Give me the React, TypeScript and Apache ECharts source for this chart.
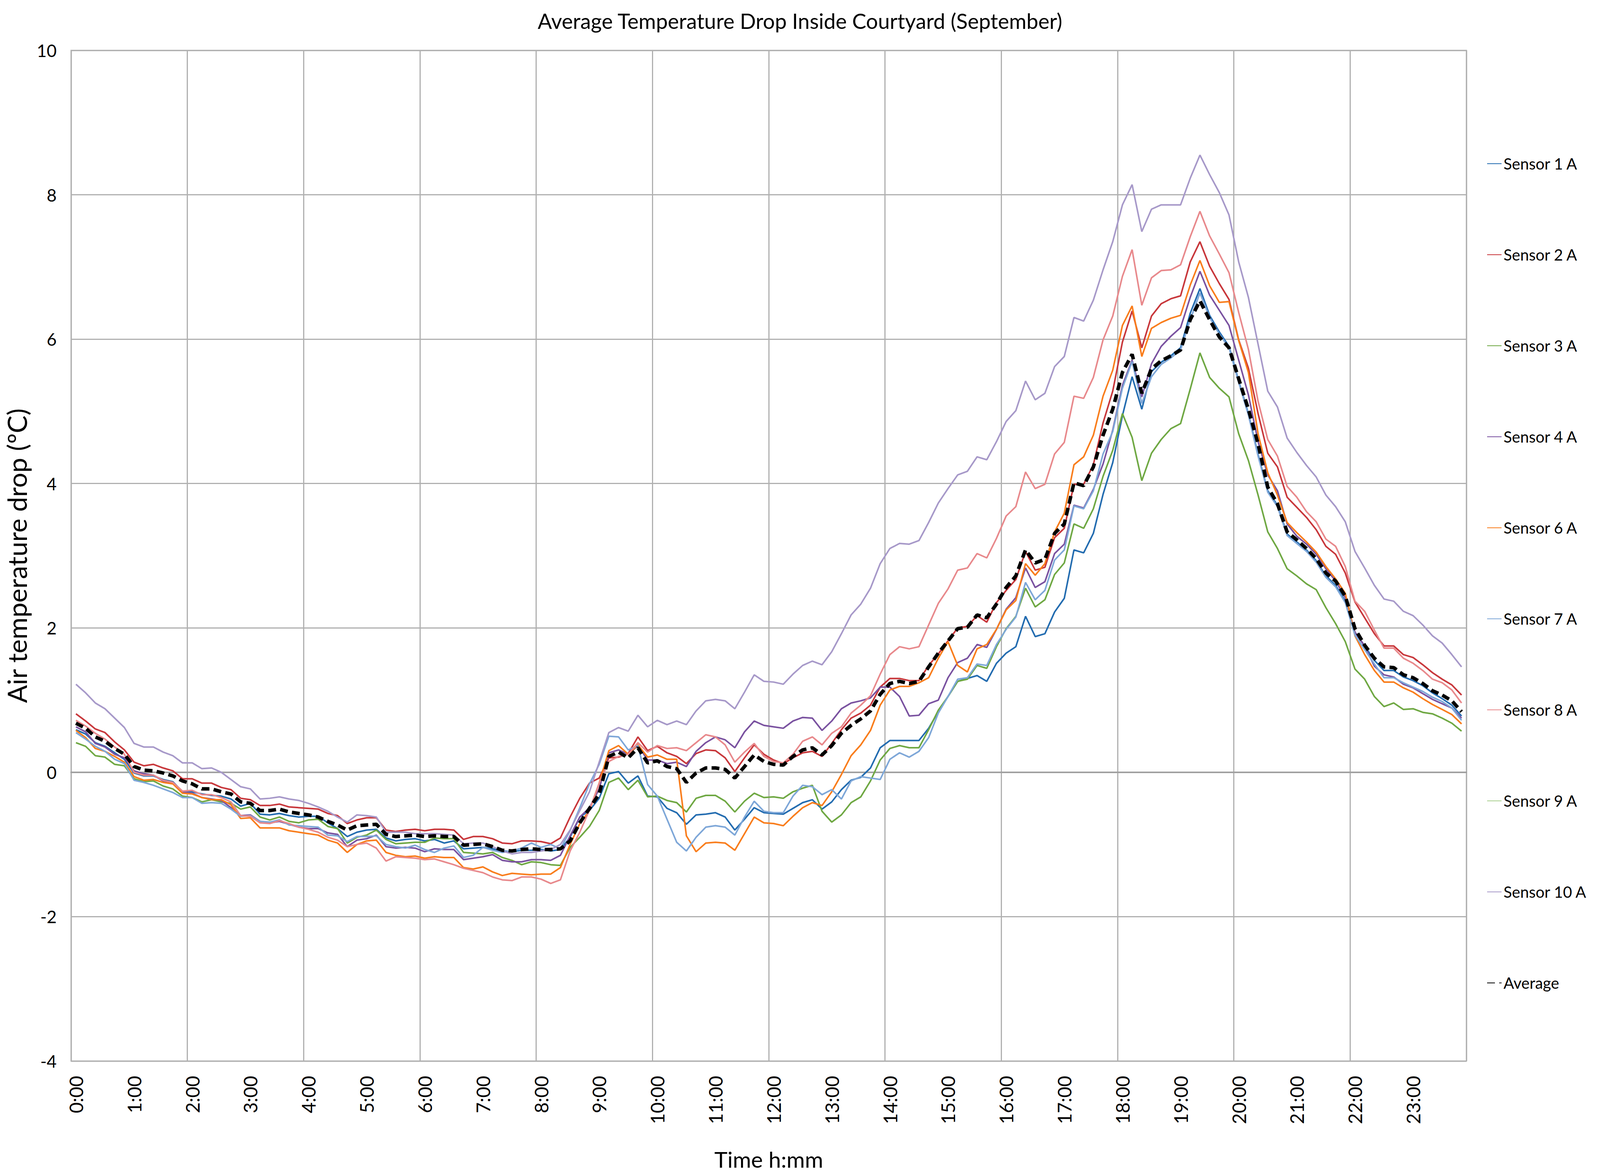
import React, { useEffect, useRef } from "react";
import * as echarts from "echarts";

const TITLE = "Average Temperature Drop Inside Courtyard (September)";
const Y_NAME = "Air temperature drop (ºC)";
const X_NAME = "Time h:mm";
const HOURS = Array.from({ length: 24 }, (_, h) => h);
const MINUTES = ["00", "10", "20", "30", "40", "50"];
const TIMES: string[] = [];
HOURS.forEach((h) => MINUTES.forEach((m) => TIMES.push(`${h}:${m}`)));

const SENSOR_NAMES = ["Sensor 1 A", "Sensor 2 A", "Sensor 3 A", "Sensor 4 A", "Sensor 6 A", "Sensor 7 A", "Sensor 8 A", "Sensor 9 A", "Sensor 10 A"];
const SENSOR_COLORS = ["#236CB0", "#C8373B", "#6FA843", "#7A52A0", "#F97D1C", "#7EA7D8", "#E8898C", "#A8CF8E", "#A799C9"];

const S1 = [
  0.59, 0.53, 0.41, 0.36, 0.27, 0.18, -0.01, -0.05, -0.05, -0.10, -0.13, -0.27, -0.27, -0.30, -0.32, -0.33, -0.37, -0.47, -0.43, -0.58, -0.59, -0.57, -0.60, -0.62, -0.61,
  -0.61, -0.70, -0.78, -0.89, -0.83, -0.80, -0.79, -0.91, -0.95, -0.93, -0.92, -0.95, -0.93, -0.98, -0.95, -1.06, -1.05, -1.04, -1.06, -1.09, -1.10, -1.08, -1.08,
  -1.07, -1.09, -1.07, -0.90, -0.62, -0.53, -0.36, -0.02, 0.01, -0.15, -0.05, -0.33, -0.34, -0.50, -0.56, -0.72, -0.59, -0.58, -0.56, -0.62, -0.80, -0.65, -0.49, -0.56, -0.57, -0.58, -0.50, -0.42,
  -0.38, -0.51, -0.41, -0.24, -0.11, -0.07, 0.06, 0.34, 0.44, 0.44, 0.44, 0.44, 0.61, 0.84, 1.05, 1.26, 1.30, 1.34, 1.26, 1.51, 1.65, 1.74, 2.16, 1.88, 1.92, 2.22, 2.41, 3.08, 3.04, 3.31, 3.85,
  4.29, 4.94, 5.48, 5.03, 5.55, 5.68, 5.77, 5.88, 6.36, 6.70, 6.33, 6.10, 5.90, 5.42, 4.97, 4.40, 3.90, 3.70, 3.30, 3.19, 3.08, 2.93, 2.72, 2.59, 2.37, 1.94, 1.75, 1.55, 1.41, 1.41, 1.32, 1.27, 1.20, 1.10, 1.02, 0.93, 0.78,
];
const S2 = [
  0.81, 0.71, 0.60, 0.55, 0.42, 0.31, 0.14, 0.09, 0.11, 0.06, 0.02, -0.09, -0.09, -0.15, -0.15, -0.21, -0.24, -0.36, -0.38, -0.46, -0.46, -0.44, -0.48, -0.49, -0.50,
  -0.51, -0.57, -0.60, -0.71, -0.66, -0.63, -0.63, -0.80, -0.82, -0.80, -0.79, -0.81, -0.79, -0.79, -0.80, -0.93, -0.89, -0.89, -0.92, -0.98, -0.99, -0.95, -0.95,
  -0.96, -0.99, -0.91, -0.62, -0.36, -0.15, -0.08, 0.20, 0.21, 0.26, 0.49, 0.30, 0.36, 0.27, 0.22, 0.12, 0.26, 0.31, 0.30, 0.20, 0.01, 0.20, 0.38, 0.25, 0.17, 0.12, 0.20, 0.27,
  0.29, 0.22, 0.40, 0.59, 0.75, 0.82, 0.93, 1.18, 1.30, 1.30, 1.27, 1.27, 1.48, 1.64, 1.82, 2.00, 2.02, 2.17, 2.08, 2.35, 2.52, 2.67, 3.06, 2.80, 2.84, 3.25, 3.38, 3.99, 3.99, 4.26, 4.84,
  5.28, 5.96, 6.39, 5.88, 6.32, 6.49, 6.56, 6.60, 7.07, 7.35, 7.01, 6.77, 6.55, 5.99, 5.60, 4.97, 4.42, 4.23, 3.81, 3.67, 3.53, 3.36, 3.13, 3.02, 2.76, 2.36, 2.14, 1.92, 1.75, 1.75, 1.63, 1.59, 1.49, 1.38, 1.29, 1.21, 1.07,
];
const S3 = [
  0.41, 0.36, 0.23, 0.21, 0.11, 0.09, -0.09, -0.13, -0.12, -0.19, -0.23, -0.33, -0.35, -0.41, -0.38, -0.41, -0.43, -0.51, -0.48, -0.62, -0.66, -0.62, -0.68, -0.70, -0.66,
  -0.65, -0.75, -0.78, -0.98, -0.90, -0.87, -0.80, -0.93, -0.99, -0.98, -0.97, -0.97, -0.91, -0.92, -0.92, -1.11, -1.12, -1.13, -1.11, -1.18, -1.22, -1.28, -1.24,
  -1.25, -1.28, -1.29, -1.04, -0.90, -0.75, -0.53, -0.14, -0.08, -0.24, -0.11, -0.34, -0.33, -0.39, -0.42, -0.55, -0.36, -0.32, -0.32, -0.40, -0.55, -0.40, -0.29, -0.35, -0.34, -0.36, -0.27, -0.22,
  -0.18, -0.54, -0.69, -0.59, -0.42, -0.34, -0.12, 0.17, 0.33, 0.37, 0.34, 0.34, 0.59, 0.86, 1.05, 1.26, 1.29, 1.48, 1.44, 1.74, 1.99, 2.16, 2.55, 2.29, 2.39, 2.74, 2.90, 3.44, 3.38, 3.65, 4.10,
  4.46, 4.97, 4.64, 4.04, 4.42, 4.61, 4.76, 4.83, 5.31, 5.81, 5.47, 5.32, 5.20, 4.69, 4.32, 3.84, 3.33, 3.10, 2.82, 2.72, 2.61, 2.53, 2.28, 2.06, 1.81, 1.43, 1.29, 1.05, 0.91, 0.96, 0.87, 0.88, 0.83, 0.81, 0.75, 0.68, 0.57,
];
const S4 = [
  0.63, 0.56, 0.40, 0.35, 0.25, 0.20, 0.02, -0.02, -0.04, -0.12, -0.14, -0.27, -0.29, -0.35, -0.37, -0.39, -0.49, -0.60, -0.59, -0.68, -0.70, -0.68, -0.72, -0.76, -0.78,
  -0.78, -0.84, -0.86, -1.03, -0.94, -0.92, -0.87, -1.03, -1.05, -1.04, -1.05, -1.10, -1.06, -1.07, -1.07, -1.21, -1.19, -1.17, -1.14, -1.22, -1.24, -1.24, -1.21,
  -1.21, -1.22, -1.15, -0.88, -0.62, -0.49, -0.23, 0.27, 0.31, 0.25, 0.37, 0.17, 0.17, 0.12, 0.14, 0.08, 0.29, 0.41, 0.49, 0.45, 0.34, 0.56, 0.71, 0.65, 0.63, 0.61, 0.71, 0.76,
  0.75, 0.58, 0.71, 0.88, 0.96, 0.99, 1.03, 1.18, 1.18, 1.05, 0.78, 0.79, 0.95, 1.00, 1.31, 1.52, 1.58, 1.77, 1.73, 1.98, 2.26, 2.42, 2.83, 2.56, 2.64, 3.03, 3.16, 3.70, 3.66, 3.92, 4.27,
  4.74, 5.36, 5.71, 5.20, 5.66, 5.90, 6.04, 6.16, 6.58, 6.94, 6.61, 6.40, 6.19, 5.71, 5.23, 4.58, 4.12, 3.90, 3.44, 3.27, 3.16, 3.02, 2.82, 2.65, 2.42, 1.94, 1.75, 1.47, 1.35, 1.32, 1.22, 1.17, 1.09, 1.01, 0.95, 0.89, 0.75,
];
const S6 = [
  0.58, 0.48, 0.33, 0.29, 0.22, 0.14, -0.06, -0.11, -0.10, -0.14, -0.16, -0.29, -0.30, -0.35, -0.38, -0.38, -0.45, -0.64, -0.63, -0.77, -0.77, -0.77, -0.81, -0.83, -0.85,
  -0.87, -0.94, -0.98, -1.11, -1.00, -0.95, -0.94, -1.11, -1.15, -1.17, -1.16, -1.19, -1.17, -1.18, -1.18, -1.32, -1.34, -1.31, -1.38, -1.43, -1.40, -1.41, -1.42,
  -1.41, -1.41, -1.32, -1.00, -0.71, -0.53, -0.15, 0.30, 0.37, 0.25, 0.38, 0.21, 0.24, 0.18, 0.18, -0.88, -1.10, -0.98, -0.97, -0.98, -1.08, -0.85, -0.62, -0.70, -0.71, -0.74, -0.61, -0.49,
  -0.42, -0.46, -0.27, -0.03, 0.23, 0.38, 0.58, 0.93, 1.14, 1.19, 1.19, 1.24, 1.31, 1.58, 1.81, 1.48, 1.39, 1.71, 1.77, 1.98, 2.25, 2.38, 2.89, 2.73, 2.89, 3.33, 3.59, 4.26, 4.37, 4.67, 5.21,
  5.57, 6.19, 6.46, 5.76, 6.15, 6.23, 6.29, 6.33, 6.75, 7.09, 6.74, 6.51, 6.52, 5.98, 5.54, 4.69, 4.15, 3.84, 3.46, 3.32, 3.19, 3.05, 2.85, 2.68, 2.48, 1.89, 1.63, 1.41, 1.25, 1.25, 1.17, 1.11, 1.02, 0.94, 0.87, 0.80, 0.67,
];
const S7 = [
  0.55, 0.46, 0.36, 0.29, 0.18, 0.12, -0.11, -0.14, -0.18, -0.23, -0.28, -0.35, -0.35, -0.43, -0.42, -0.43, -0.51, -0.61, -0.60, -0.68, -0.69, -0.66, -0.73, -0.74, -0.75,
  -0.76, -0.87, -0.88, -0.96, -0.89, -0.89, -0.88, -1.00, -1.03, -1.05, -1.01, -1.07, -1.11, -1.05, -1.02, -1.18, -1.15, -1.04, -1.08, -1.11, -1.09, -1.05, -0.98,
  -1.04, -1.00, -1.06, -0.81, -0.49, -0.16, 0.11, 0.50, 0.49, 0.31, 0.37, -0.17, -0.33, -0.65, -0.97, -1.09, -0.90, -0.76, -0.74, -0.76, -0.87, -0.62, -0.40, -0.54, -0.56, -0.56, -0.33, -0.18,
  -0.20, -0.31, -0.24, -0.37, -0.12, -0.06, -0.08, -0.10, 0.18, 0.27, 0.21, 0.29, 0.48, 0.82, 1.05, 1.29, 1.31, 1.50, 1.48, 1.77, 1.98, 2.15, 2.63, 2.39, 2.52, 2.94, 3.08, 3.69, 3.65, 3.90, 4.41,
  4.72, 5.32, 5.69, 5.11, 5.48, 5.65, 5.74, 5.85, 6.27, 6.64, 6.30, 6.07, 5.88, 5.40, 4.95, 4.38, 3.88, 3.68, 3.28, 3.17, 3.06, 2.91, 2.70, 2.57, 2.35, 1.90, 1.70, 1.50, 1.31, 1.31, 1.24, 1.18, 1.12, 1.04, 0.98, 0.89, 0.72,
];
const S8 = [
  0.72, 0.64, 0.54, 0.46, 0.35, 0.25, 0.00, -0.04, -0.04, -0.11, -0.14, -0.26, -0.25, -0.31, -0.31, -0.35, -0.41, -0.60, -0.61, -0.70, -0.71, -0.67, -0.71, -0.76, -0.79,
  -0.83, -0.90, -0.94, -1.03, -1.00, -0.98, -1.05, -1.23, -1.17, -1.18, -1.19, -1.21, -1.20, -1.24, -1.28, -1.33, -1.36, -1.39, -1.45, -1.49, -1.50, -1.45, -1.45,
  -1.48, -1.54, -1.49, -1.09, -0.83, -0.52, -0.15, 0.15, 0.22, 0.25, 0.41, 0.28, 0.37, 0.33, 0.34, 0.30, 0.41, 0.52, 0.49, 0.38, 0.14, 0.28, 0.40, 0.22, 0.15, 0.13, 0.25, 0.43,
  0.49, 0.38, 0.54, 0.63, 0.82, 0.93, 1.06, 1.36, 1.63, 1.74, 1.71, 1.74, 2.04, 2.34, 2.54, 2.80, 2.83, 3.03, 2.97, 3.24, 3.55, 3.68, 4.16, 3.93, 3.99, 4.41, 4.57, 5.21, 5.18, 5.47, 5.99,
  6.32, 6.87, 7.24, 6.47, 6.85, 6.95, 6.96, 7.03, 7.42, 7.77, 7.43, 7.18, 6.92, 6.37, 5.86, 5.14, 4.61, 4.38, 3.96, 3.81, 3.61, 3.47, 3.23, 3.13, 2.85, 2.37, 2.23, 1.97, 1.72, 1.72, 1.58, 1.51, 1.41, 1.29, 1.24, 1.14, 0.96,
];
const S9: (number | null)[] = [];
const S10 = [
  1.22, 1.10, 0.96, 0.88, 0.75, 0.62, 0.40, 0.35, 0.35, 0.28, 0.23, 0.13, 0.13, 0.05, 0.06, 0.00, -0.10, -0.20, -0.23, -0.37, -0.36, -0.34, -0.37, -0.39, -0.43,
  -0.48, -0.54, -0.62, -0.69, -0.59, -0.60, -0.62, -0.83, -0.83, -0.83, -0.85, -0.85, -0.85, -0.86, -0.87, -0.99, -0.98, -0.98, -1.03, -1.09, -1.13, -1.11, -1.11,
  -1.09, -1.07, -1.00, -0.80, -0.53, -0.27, 0.14, 0.55, 0.62, 0.57, 0.79, 0.63, 0.72, 0.66, 0.71, 0.66, 0.85, 0.99, 1.01, 0.99, 0.88, 1.11, 1.35, 1.26, 1.25, 1.22, 1.36, 1.48,
  1.54, 1.49, 1.67, 1.92, 2.18, 2.33, 2.55, 2.89, 3.10, 3.17, 3.16, 3.21, 3.46, 3.73, 3.93, 4.12, 4.17, 4.37, 4.33, 4.58, 4.86, 5.01, 5.42, 5.16, 5.25, 5.62, 5.76, 6.30, 6.25, 6.54, 6.96,
  7.35, 7.86, 8.14, 7.49, 7.80, 7.86, 7.86, 7.86, 8.23, 8.55, 8.28, 8.03, 7.72, 7.07, 6.58, 5.93, 5.28, 5.06, 4.63, 4.43, 4.25, 4.09, 3.84, 3.68, 3.47, 3.06, 2.83, 2.59, 2.40, 2.37, 2.23, 2.17, 2.04, 1.89, 1.79, 1.63, 1.46,
];
const AVERAGE = [
  0.68, 0.61, 0.49, 0.43, 0.33, 0.25, 0.08, 0.03, 0.02, -0.01, -0.05, -0.12, -0.16, -0.23, -0.23, -0.27, -0.30, -0.41, -0.43, -0.53, -0.53, -0.51, -0.55, -0.57, -0.59,
  -0.62, -0.68, -0.73, -0.80, -0.74, -0.73, -0.72, -0.86, -0.89, -0.88, -0.87, -0.89, -0.88, -0.89, -0.89, -1.01, -1.00, -0.99, -1.03, -1.08, -1.09, -1.07, -1.06,
  -1.07, -1.07, -1.06, -0.95, -0.70, -0.50, -0.30, 0.22, 0.28, 0.20, 0.34, 0.13, 0.16, 0.08, 0.05, -0.14, -0.01, 0.06, 0.06, 0.04, -0.08, 0.08, 0.24, 0.15, 0.11, 0.10, 0.22, 0.31,
  0.34, 0.24, 0.37, 0.54, 0.65, 0.74, 0.85, 1.08, 1.23, 1.26, 1.23, 1.26, 1.46, 1.65, 1.82, 1.99, 2.01, 2.18, 2.14, 2.33, 2.56, 2.72, 3.08, 2.90, 2.95, 3.31, 3.44, 4.01, 3.97, 4.23, 4.67,
  5.03, 5.54, 5.79, 5.25, 5.59, 5.70, 5.77, 5.85, 6.27, 6.53, 6.27, 6.03, 5.88, 5.45, 5.03, 4.55, 3.95, 3.72, 3.33, 3.22, 3.10, 2.96, 2.76, 2.65, 2.44, 1.99, 1.76, 1.58, 1.46, 1.45, 1.35, 1.31, 1.23, 1.13, 1.07, 0.99, 0.84,
];
const SENSOR_DATA = [S1, S2, S3, S4, S6, S7, S8, S9, S10];

const Y_MIN = -4;
const Y_MAX = 10;
const Y_STEP = 2;

// layout measured on the 5797 x 3000 reference
const REF_W = 5797;
const REF_H = 3000;

const FONT = "Lato, 'Liberation Sans', sans-serif";
const GRID_COLOR = "#B0B0B0";

export default function App() {
  const ref = useRef<HTMLDivElement | null>(null);
  useEffect(() => {
    document.body.style.margin = "0";
    document.body.style.overflow = "hidden";
    const el = ref.current;
    if (!el) return;
    const W = el.clientWidth || window.innerWidth;
    const H = el.clientHeight || window.innerHeight;
    const sx = W / REF_W;
    const sy = H / REF_H;
    const fs = Math.sqrt(sx * sy);
    const X = (v: number) => Math.round(v * sx);
    const Y = (v: number) => Math.round(v * sy);
    const F = (v: number) => Math.round(v * fs);
    const FV = (v: number) => Math.round(v * sy);

    const chart = echarts.init(el, null, { renderer: "svg" });
    const series: any[] = SENSOR_NAMES.map((name, k) => ({
      name,
      type: "line",
      data: SENSOR_DATA[k],
      symbol: "none",
      showSymbol: false,
      lineStyle: { color: SENSOR_COLORS[k], width: 4 },
      itemStyle: { color: SENSOR_COLORS[k] },
    }));
    series.push({
      name: "Average",
      type: "line",
      data: AVERAGE,
      symbol: "none",
      showSymbol: false,
      lineStyle: { color: "#000000", width: 9, type: [20, 11], cap: "butt" },
      itemStyle: { color: "#000000" },
      z: 5,
    });
    const legendFont = F(48);
    chart.setOption({
      animation: false,
      backgroundColor: "#ffffff",
      textStyle: { fontFamily: FONT },
      title: {
        text: TITLE,
        left: "center",
        top: Y(52) - Math.round(F(64) / 2) - 4,
        textStyle: { fontFamily: FONT, fontSize: F(64), fontWeight: "normal", color: "#000" },
      },
      legend: {
        orient: "vertical",
        left: X(5443) - 45,
        top: Y(414) - Math.round(legendFont / 2),
        itemWidth: X(52),
        itemHeight: 12,
        itemGap: Y(233) - legendFont,
        itemStyle: { opacity: 0 },
        textStyle: { fontFamily: FONT, fontSize: legendFont, color: "#000", lineHeight: legendFont },
        data: [...SENSOR_NAMES, "Average"],
      },
      grid: {
        left: X(208),
        right: W - X(5313),
        top: Y(129),
        bottom: H - Y(2735),
        show: true,
        borderColor: GRID_COLOR,
        borderWidth: 3,
        containLabel: false,
      },
      xAxis: {
        type: "category",
        data: TIMES,
        boundaryGap: true,
        name: X_NAME,
        nameLocation: "middle",
        nameGap: Y(222),
        nameTextStyle: { fontFamily: FONT, fontSize: F(68), color: "#000" },
        axisLine: { show: true, lineStyle: { color: "#A0A0A0", width: 4 } },
        axisTick: { show: false },
        axisLabel: {
          interval: 5,
          rotate: 90,
          margin: Y(38),
          fontFamily: FONT,
          fontSize: FV(48),
          color: "#000",
        },
        splitLine: {
          show: true,
          interval: (index: number) => index % 12 === 0,
          lineStyle: { color: GRID_COLOR, width: 3 },
        },
      },
      yAxis: {
        type: "value",
        min: Y_MIN,
        max: Y_MAX,
        interval: Y_STEP,
        name: Y_NAME,
        nameLocation: "middle",
        nameGap: X(208) - X(58),
        nameTextStyle: { fontFamily: FONT, fontSize: FV(68), color: "#000" },
        axisLine: { show: false },
        axisTick: { show: false },
        axisLabel: { fontFamily: FONT, fontSize: F(52), color: "#000", margin: X(52) },
        splitLine: { show: true, lineStyle: { color: GRID_COLOR, width: 3 } },
      },
      series,
    });
    return () => chart.dispose();
  }, []);
  return <div ref={ref} style={{ width: "100vw", height: "100vh" }} />;
}
